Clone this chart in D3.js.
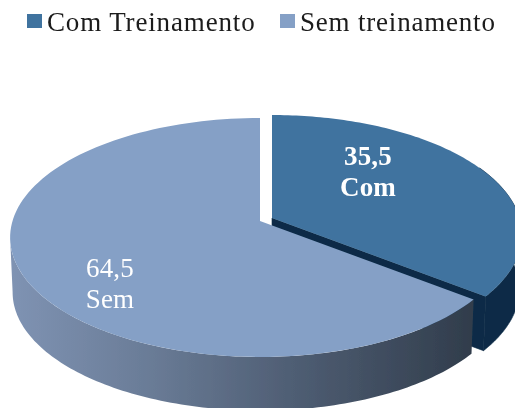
<!DOCTYPE html>
<html><head><meta charset="utf-8">
<script src="https://cdn.jsdelivr.net/npm/d3@7/dist/d3.min.js"></script>
<style>html,body{margin:0;padding:0;background:#fff}svg{display:block}text{font-family:"Liberation Serif",serif}</style>
</head><body><div id="c"></div>
<script>
const categories=["Com Treinamento","Sem treinamento"];
const shortNames=["Com","Sem"];
const values=[35.5,64.5];
const valueLabels=["35,5","64,5"];
const topColors=["#41739f","#85a0c6"];
const W=515,H=408;
const svg=d3.select("#c").append("svg").attr("width",W).attr("height",H);
const defs=svg.append("defs");
defs.append("filter").attr("id","soft").attr("x","-5%").attr("y","-5%").attr("width","110%").attr("height","110%")
  .append("feGaussianBlur").attr("stdDeviation",0.55);
const g=defs.append("linearGradient").attr("id","semWall").attr("gradientUnits","userSpaceOnUse")
  .attr("x1",10).attr("x2",470).attr("y1",0).attr("y2",0);
[[0,"#7f93b3"],[0.3,"#6a7c97"],[0.6,"#505f75"],[1,"#313d4c"]].forEach(s=>g.append("stop").attr("offset",s[0]).attr("stop-color",s[1]));

const pies=d3.pie().sort(null).value(d=>d)(values);
// perspective projection of the pie disc
const P={x0:260,y0:221,R:247.5,A:117.2,p:0.138,dy:55,s:0.99};
const offs=[{x:12,y:-3},{x:0,y:0}];
function proj(a,r,o,low){
  const u=Math.sin(a)*r,v=-Math.cos(a)*r,d=1-P.p*v,s=low?P.s:1;
  return [P.x0+o.x+s*P.R*u/d, P.y0+o.y+(low?P.dy:0)+s*P.A*v/d];
}
const line=d3.line();
const rim=(a0,a1,o,low)=>d3.range(0,121).map(i=>proj(a0+(a1-a0)*i/120,1,o,low));
const root=svg.append("g").attr("filter","url(#soft)");

function drawSlice(i){
  const a=pies[i],o=offs[i];
  const wallFill=i===0?"#0b2b47":"url(#semWall)";
  if(i===0){
    // outer wall from the right-hand side to the cut, joined with the cut face
    const t=rim(Math.PI*0.35,a.endAngle,o,false),b=rim(Math.PI*0.35,a.endAngle,o,true).reverse();
    const c=proj(0,0,o,false),cl=proj(0,0,o,true);
    root.append("path").attr("d",line(t.concat(b))+"Z").attr("fill",wallFill).attr("stroke",wallFill).attr("stroke-width",0.6);
    root.append("path").attr("d",line([c,t[t.length-1],b[0],cl])+"Z").attr("fill",wallFill).attr("stroke",wallFill).attr("stroke-width",0.6);
  } else {
    // wall stops at the silhouette tangent of the projected disc
    const w0=Math.max(a.startAngle,Math.PI/2),w1=Math.min(a.endAngle,Math.PI*1.457);
    const top=rim(w0,w1,o,false),bot=rim(w0,w1,o,true).reverse();
    root.append("path").attr("d",line(top.concat(bot))+"Z").attr("fill",wallFill);
  }
  const rimPts=rim(a.startAngle,a.endAngle,o,false);
  root.append("path").attr("d",line([proj(0,0,o,false)].concat(rimPts))+"Z").attr("fill",topColors[i]);
}
pies.forEach((_,i)=>drawSlice(i));

// data labels
const lab=[{x:368,y1:165,y2:196,w:"bold"},{x:110,y1:277,y2:308,w:"normal"}];
pies.forEach((_,i)=>{
  [[valueLabels[i],lab[i].y1],[shortNames[i],lab[i].y2]].forEach(t=>{
    root.append("text").attr("x",lab[i].x).attr("y",t[1]).attr("text-anchor","middle")
      .attr("font-size",27).attr("letter-spacing",0.2).attr("font-weight",lab[i].w).attr("fill","#fff").text(t[0]);
  });
});
// legend
const legX=[[27,47],[280,300]];
const legSpacing=[0.85,0.8];
categories.forEach((c,i)=>{
  root.append("rect").attr("x",legX[i][0]).attr("y",14).attr("width",15).attr("height",14).attr("fill",topColors[i]);
  root.append("text").attr("x",legX[i][1]).attr("y",31).attr("font-size",27).attr("letter-spacing",legSpacing[i]).attr("fill","#1a1a1a").text(c);
});
</script></body></html>
